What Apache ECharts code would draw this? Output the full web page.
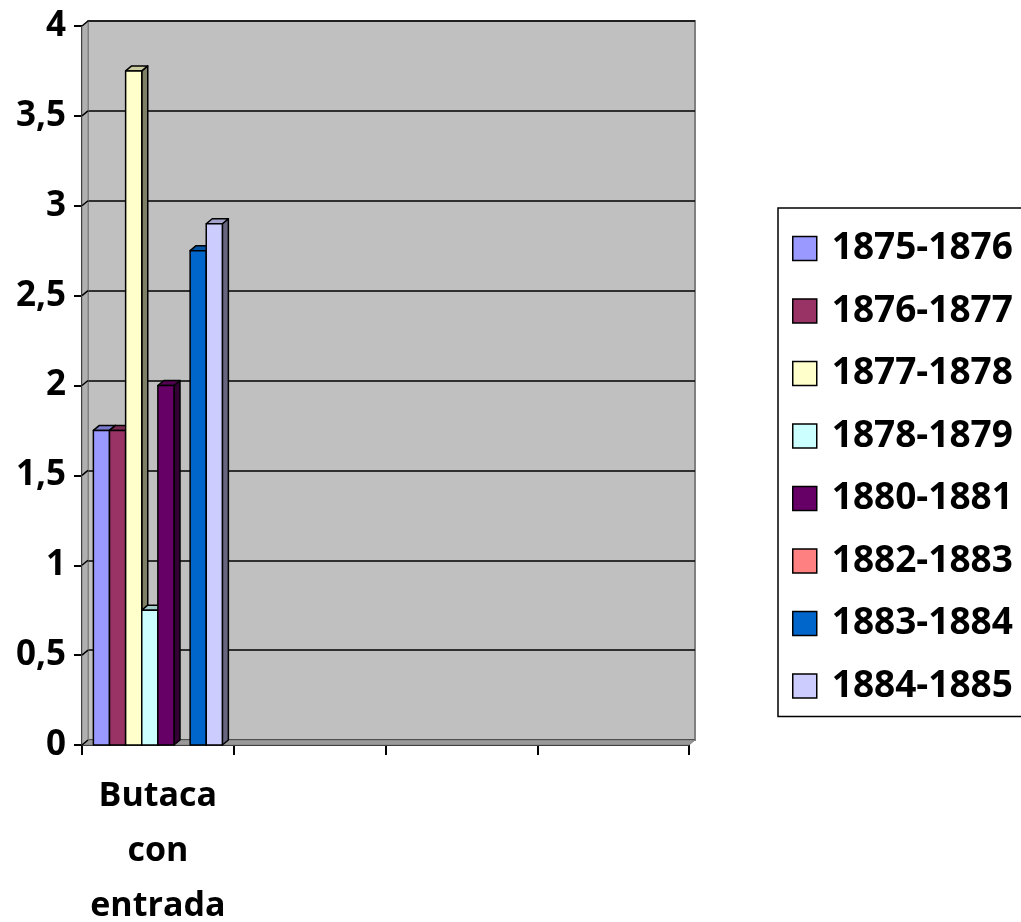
<!DOCTYPE html>
<html>
<head>
<meta charset="utf-8">
<script src="https://cdn.jsdelivr.net/npm/echarts@6/dist/echarts.min.js"></script>
<style>
  html, body { margin: 0; padding: 0; background: #fff; }
  #chart { width: 1021px; height: 922px; }
</style>
</head>
<body>
<div id="chart"></div>
<script>
// Categories along the x axis (only the first one carries data)
const categories = ['Butaca\ncon\nentrada', '', '', ''];

// Seasons shown in the legend, one series each
const seasons = ['1875-1876', '1876-1877', '1877-1878', '1878-1879',
                 '1880-1881', '1882-1883', '1883-1884', '1884-1885'];

// Value of each season for "Butaca con entrada"
const butacaValues = [1.75, 1.75, 3.75, 0.75, 2, 0, 2.75, 2.9];

// Fill colour of each season
const seasonColors = ['#9999FF', '#993366', '#FFFFCC', '#CCFFFF',
                      '#660066', '#FF8080', '#0066CC', '#CCCCFF'];

// Value axis ticks and their labels (comma decimals)
const yTicks = [0, 0.5, 1, 1.5, 2, 2.5, 3, 3.5, 4];
const yTickLabels = ['0', '0,5', '1', '1,5', '2', '2,5', '3', '3,5', '4'];

// Pseudo-3D depth offset and cluster width
const DX = 6, DY = -5;
const GROUP_RATIO = 0.85;
const FONT = '"Open Sans", "DejaVu Sans", sans-serif';

function shade(hex, k) {
  const n = parseInt(hex.slice(1), 16);
  const r = Math.round(((n >> 16) & 255) * k);
  const g = Math.round(((n >> 8) & 255) * k);
  const b = Math.round((n & 255) * k);
  return 'rgb(' + r + ',' + g + ',' + b + ')';
}

// Each season's bar: front face, top face and right side face
function barRenderer(i) {
  return function (params, api) {
    const val = api.value(1);
    if (!val) return null;
    const cat = api.value(0);
    const base = api.coord([cat, 0]);
    const top = api.coord([cat, val]);
    const catW = api.size([1, 0])[0];
    const groupW = catW * GROUP_RATIO;
    const barW = groupW / seasons.length;
    const x0 = base[0] - groupW / 2 + i * barW;
    const x1 = x0 + barW;
    const yT = top[1], yB = base[1];
    const color = seasonColors[i];
    const edge = { stroke: '#000', lineWidth: 1.5, lineJoin: 'round' };
    return {
      type: 'group',
      children: [
        { type: 'polygon',
          shape: { points: [[x1, yT], [x1 + DX, yT + DY], [x1 + DX, yB + DY], [x1, yB]] },
          style: Object.assign({ fill: shade(color, 0.5) }, edge) },
        { type: 'polygon',
          shape: { points: [[x0, yT], [x0 + DX, yT + DY], [x1 + DX, yT + DY], [x1, yT]] },
          style: Object.assign({ fill: shade(color, 0.8) }, edge) },
        { type: 'rect',
          shape: { x: x0, y: yT, width: barW, height: yB - yT },
          style: Object.assign({ fill: color }, edge) }
      ]
    };
  };
}

// Side wall, floor and the tick connectors between front axis and back wall
function wallRenderer(params, api) {
  const catW = api.size([1, 0])[0];
  const L = api.coord([0, 0])[0] - catW / 2;
  const R = L + catW * categories.length;
  const y0 = api.coord([0, yTicks[0]])[1];
  const yMax = api.coord([0, yTicks[yTicks.length - 1]])[1];
  const children = [
    { type: 'polygon',
      shape: { points: [[L, yMax], [L, y0], [L + DX, y0 + DY], [L + DX, yMax + DY]] },
      style: { fill: '#B0B0B0', stroke: '#808080', lineWidth: 1 } },
    { type: 'polygon',
      shape: { points: [[L, y0], [R, y0], [R + DX, y0 + DY], [L + DX, y0 + DY]] },
      style: { fill: '#999999', stroke: '#808080', lineWidth: 1 } }
  ];
  yTicks.forEach(function (v) {
    const y = api.coord([0, v])[1];
    children.push({ type: 'line',
      shape: { x1: L, y1: y, x2: L + DX, y2: y + DY },
      style: { stroke: '#000', lineWidth: 1.5 } });
  });
  return { type: 'group', children: children };
}

const barSeries = seasons.map(function (name, i) {
  return {
    name: name,
    type: 'custom',
    xAxisIndex: 0,
    yAxisIndex: 0,
    z: 3,
    itemStyle: { color: seasonColors[i], borderColor: '#000', borderWidth: 1.5 },
    renderItem: barRenderer(i),
    encode: { x: 0, y: 1 },
    data: [[0, butacaValues[i]]]
  };
});

const chart = echarts.init(document.getElementById('chart'));
chart.setOption({
  animation: false,
  backgroundColor: '#ffffff',
  textStyle: { fontFamily: FONT },
  grid: [
    { left: 82, top: 26, width: 607, height: 719, containLabel: false, outerBoundsMode: 'none' },
    { left: 82 + DX, top: 26 + DY, width: 607, height: 719, containLabel: false, outerBoundsMode: 'none',
      show: true, backgroundColor: '#C0C0C0', borderColor: '#808080', borderWidth: 2 }
  ],
  xAxis: [
    { type: 'category', gridIndex: 0, data: categories,
      axisLine: { lineStyle: { color: '#000', width: 2 } },
      axisTick: { show: true, length: 10, lineStyle: { color: '#000', width: 2 } },
      axisLabel: { color: '#000', fontSize: 34, fontWeight: 'bold', fontFamily: FONT,
                   lineHeight: 55, margin: 24, interval: 0 },
      splitLine: { show: false } },
    { type: 'category', gridIndex: 1, data: categories, show: false }
  ],
  yAxis: [
    { type: 'value', gridIndex: 0, min: 0, max: 4, interval: 0.5,
      axisLine: { show: true, lineStyle: { color: '#000', width: 2 } },
      axisTick: { show: true, length: 8, lineStyle: { color: '#000', width: 2 } },
      axisLabel: { color: '#000', fontSize: 35, fontWeight: 'bold', fontFamily: FONT, margin: 16,
                   formatter: function (v) { return yTickLabels[Math.round(v / 0.5)]; } },
      splitLine: { show: false } },
    { type: 'value', gridIndex: 1, min: 0, max: 4, interval: 0.5,
      axisLine: { show: false }, axisTick: { show: false }, axisLabel: { show: false },
      splitLine: { show: true, lineStyle: { color: '#000', width: 1.5 } } }
  ],
  legend: {
    orient: 'vertical',
    left: 778, top: 208,
    padding: [22, 14, 12, 14],
    itemWidth: 24, itemHeight: 24,
    itemGap: 25.5,
    icon: 'rect',
    backgroundColor: '#ffffff',
    borderColor: '#000', borderWidth: 1.5, borderRadius: 0,
    itemStyle: { borderColor: '#000', borderWidth: 1.5 },
    textStyle: { color: '#000', fontSize: 37, fontWeight: 'bold', fontFamily: FONT,
                 lineHeight: 35, padding: [0, 0, 0, 10] },
    data: seasons
  },
  series: [{
    name: 'walls', type: 'custom', xAxisIndex: 0, yAxisIndex: 0, z: 1,
    silent: true, renderItem: wallRenderer, encode: { x: 0, y: 1 },
    data: [[0, 0]]
  }].concat(barSeries)
});
</script>
</body>
</html>
